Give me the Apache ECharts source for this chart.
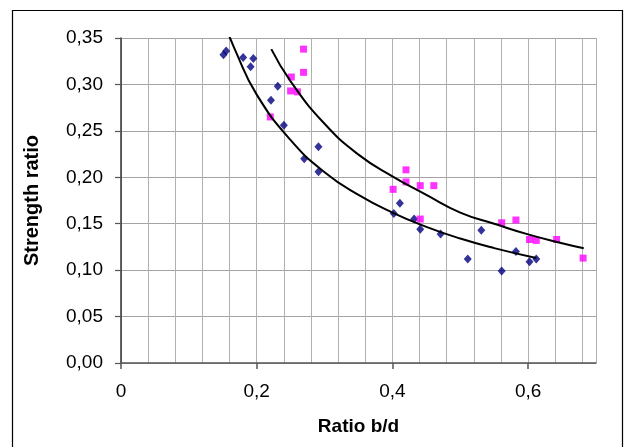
<!DOCTYPE html>
<html>
<head>
<meta charset="utf-8">
<script src="https://cdn.jsdelivr.net/npm/echarts@6/dist/echarts.min.js"></script>
<style>
html,body{margin:0;padding:0;background:#fff;}
#c{width:625px;height:447px;}
</style>
</head>
<body>
<div id="c"></div>
<script>
// Blue diamonds (series 1)
const blueX = [0.151, 0.155, 0.180, 0.195, 0.191, 0.231, 0.221, 0.240, 0.291, 0.270, 0.291,
               0.402, 0.411, 0.432, 0.441, 0.471, 0.511, 0.531, 0.561, 0.582, 0.602, 0.612];
const blueY = [0.332, 0.336, 0.329, 0.328, 0.319, 0.298, 0.283, 0.256, 0.233, 0.220, 0.206,
               0.161, 0.172, 0.155, 0.144, 0.139, 0.112, 0.143, 0.099, 0.120, 0.109, 0.112];
// Magenta squares (series 2)
const pinkX = [0.269, 0.251, 0.269, 0.250, 0.260, 0.220,
               0.401, 0.420, 0.420, 0.441, 0.461, 0.441, 0.561, 0.582, 0.602, 0.612, 0.642, 0.681];
const pinkY = [0.338, 0.308, 0.313, 0.293, 0.292, 0.265,
               0.187, 0.208, 0.195, 0.191, 0.191, 0.155, 0.151, 0.154, 0.133, 0.132, 0.133, 0.113];
// Trend lines
const trendBlueX = [0.151, 0.17, 0.20, 0.25, 0.30, 0.35, 0.40, 0.45, 0.50, 0.55, 0.612];
const trendBlueY = [0.369, 0.334, 0.289, 0.240, 0.2055, 0.181, 0.162, 0.1466, 0.134, 0.1237, 0.113];
const trendPinkX = [0.2215, 0.25, 0.30, 0.35, 0.40, 0.45, 0.50, 0.55, 0.60, 0.65, 0.682];
const trendPinkY = [0.338, 0.3033, 0.2576, 0.2244, 0.201, 0.181, 0.162, 0.150, 0.1385, 0.129, 0.1235];
// Tick labels
const xTickValues = [0, 0.2, 0.4, 0.6];
const xTickLabels = ['0', '0,2', '0,4', '0,6'];
const yTickLabels = ['0,00', '0,05', '0,10', '0,15', '0,20', '0,25', '0,30', '0,35'];

const zip = (a, b) => a.map((v, i) => [v, b[i]]);
const font = 'Liberation Sans, Arial, sans-serif';

const chart = echarts.init(document.getElementById('c'), null, {renderer: 'canvas'});
chart.setOption({
  animation: false,
  backgroundColor: '#fff',
  graphic: [{
    type: 'rect', silent: true, z: 100,
    shape: {x: 12.5, y: 10.5, width: 610, height: 460},
    style: {fill: 'none', stroke: '#000', lineWidth: 1.2}
  }],
  grid: {left: 121, right: 29, top: 38, bottom: 84, containLabel: false},
  xAxis: [{
    type: 'value', min: 0, max: 0.7, interval: 0.04,
    axisLine: {show: true, onZero: false, lineStyle: {color: '#555', width: 1.5}},
    axisTick: {show: false},
    axisLabel: {show: false},
    splitLine: {show: true, lineStyle: {color: '#b0b0b0', width: 1}}
  }, {
    type: 'value', min: 0, max: 0.7, interval: 0.2, position: 'bottom',
    name: 'Ratio b/d', nameLocation: 'middle', nameGap: 54,
    nameTextStyle: {fontFamily: font, fontSize: 19, fontWeight: 'bold', color: '#000'},
    axisLine: {show: false},
    axisTick: {show: true, customValues: xTickValues, length: 6, lineStyle: {color: '#555', width: 1.5}},
    axisLabel: {
      customValues: xTickValues, margin: 19,
      fontFamily: font, fontSize: 19, color: '#000',
      formatter: v => xTickLabels[xTickValues.findIndex(t => Math.abs(t - v) < 1e-9)] ?? ''
    },
    splitLine: {show: false}
  }],
  yAxis: {
    type: 'value', min: 0, max: 0.35, interval: 0.05,
    name: 'Strength ratio', nameLocation: 'middle', nameGap: 79, nameRotate: 90,
    nameTextStyle: {fontFamily: font, fontSize: 20, fontWeight: 'bold', color: '#000'},
    axisLine: {show: true, onZero: false, lineStyle: {color: '#333', width: 1.5}},
    axisTick: {show: true, length: 6, lineStyle: {color: '#555', width: 1.2}},
    axisLabel: {
      margin: 18, fontFamily: font, fontSize: 19, color: '#000',
      formatter: v => yTickLabels[Math.round(v / 0.05)] ?? ''
    },
    splitLine: {show: true, lineStyle: {color: '#a4a4a4', width: 1}}
  },
  series: [{
    type: 'scatter', name: 'blue', xAxisIndex: 0,
    data: zip(blueX, blueY),
    symbol: 'diamond', symbolSize: [8, 9],
    itemStyle: {color: '#000080'}
  }, {
    type: 'scatter', name: 'pink', xAxisIndex: 0,
    data: zip(pinkX, pinkY),
    symbol: 'rect', symbolSize: 7,
    itemStyle: {color: '#ff00ff'}
  }, {
    type: 'line', xAxisIndex: 0, data: zip(trendBlueX, trendBlueY),
    smooth: 0.5, showSymbol: false, clip: true,
    lineStyle: {color: '#000', width: 2}
  }, {
    type: 'line', xAxisIndex: 0, data: zip(trendPinkX, trendPinkY),
    smooth: 0.5, showSymbol: false, clip: true,
    lineStyle: {color: '#000', width: 2}
  }]
});
</script>
</body>
</html>
